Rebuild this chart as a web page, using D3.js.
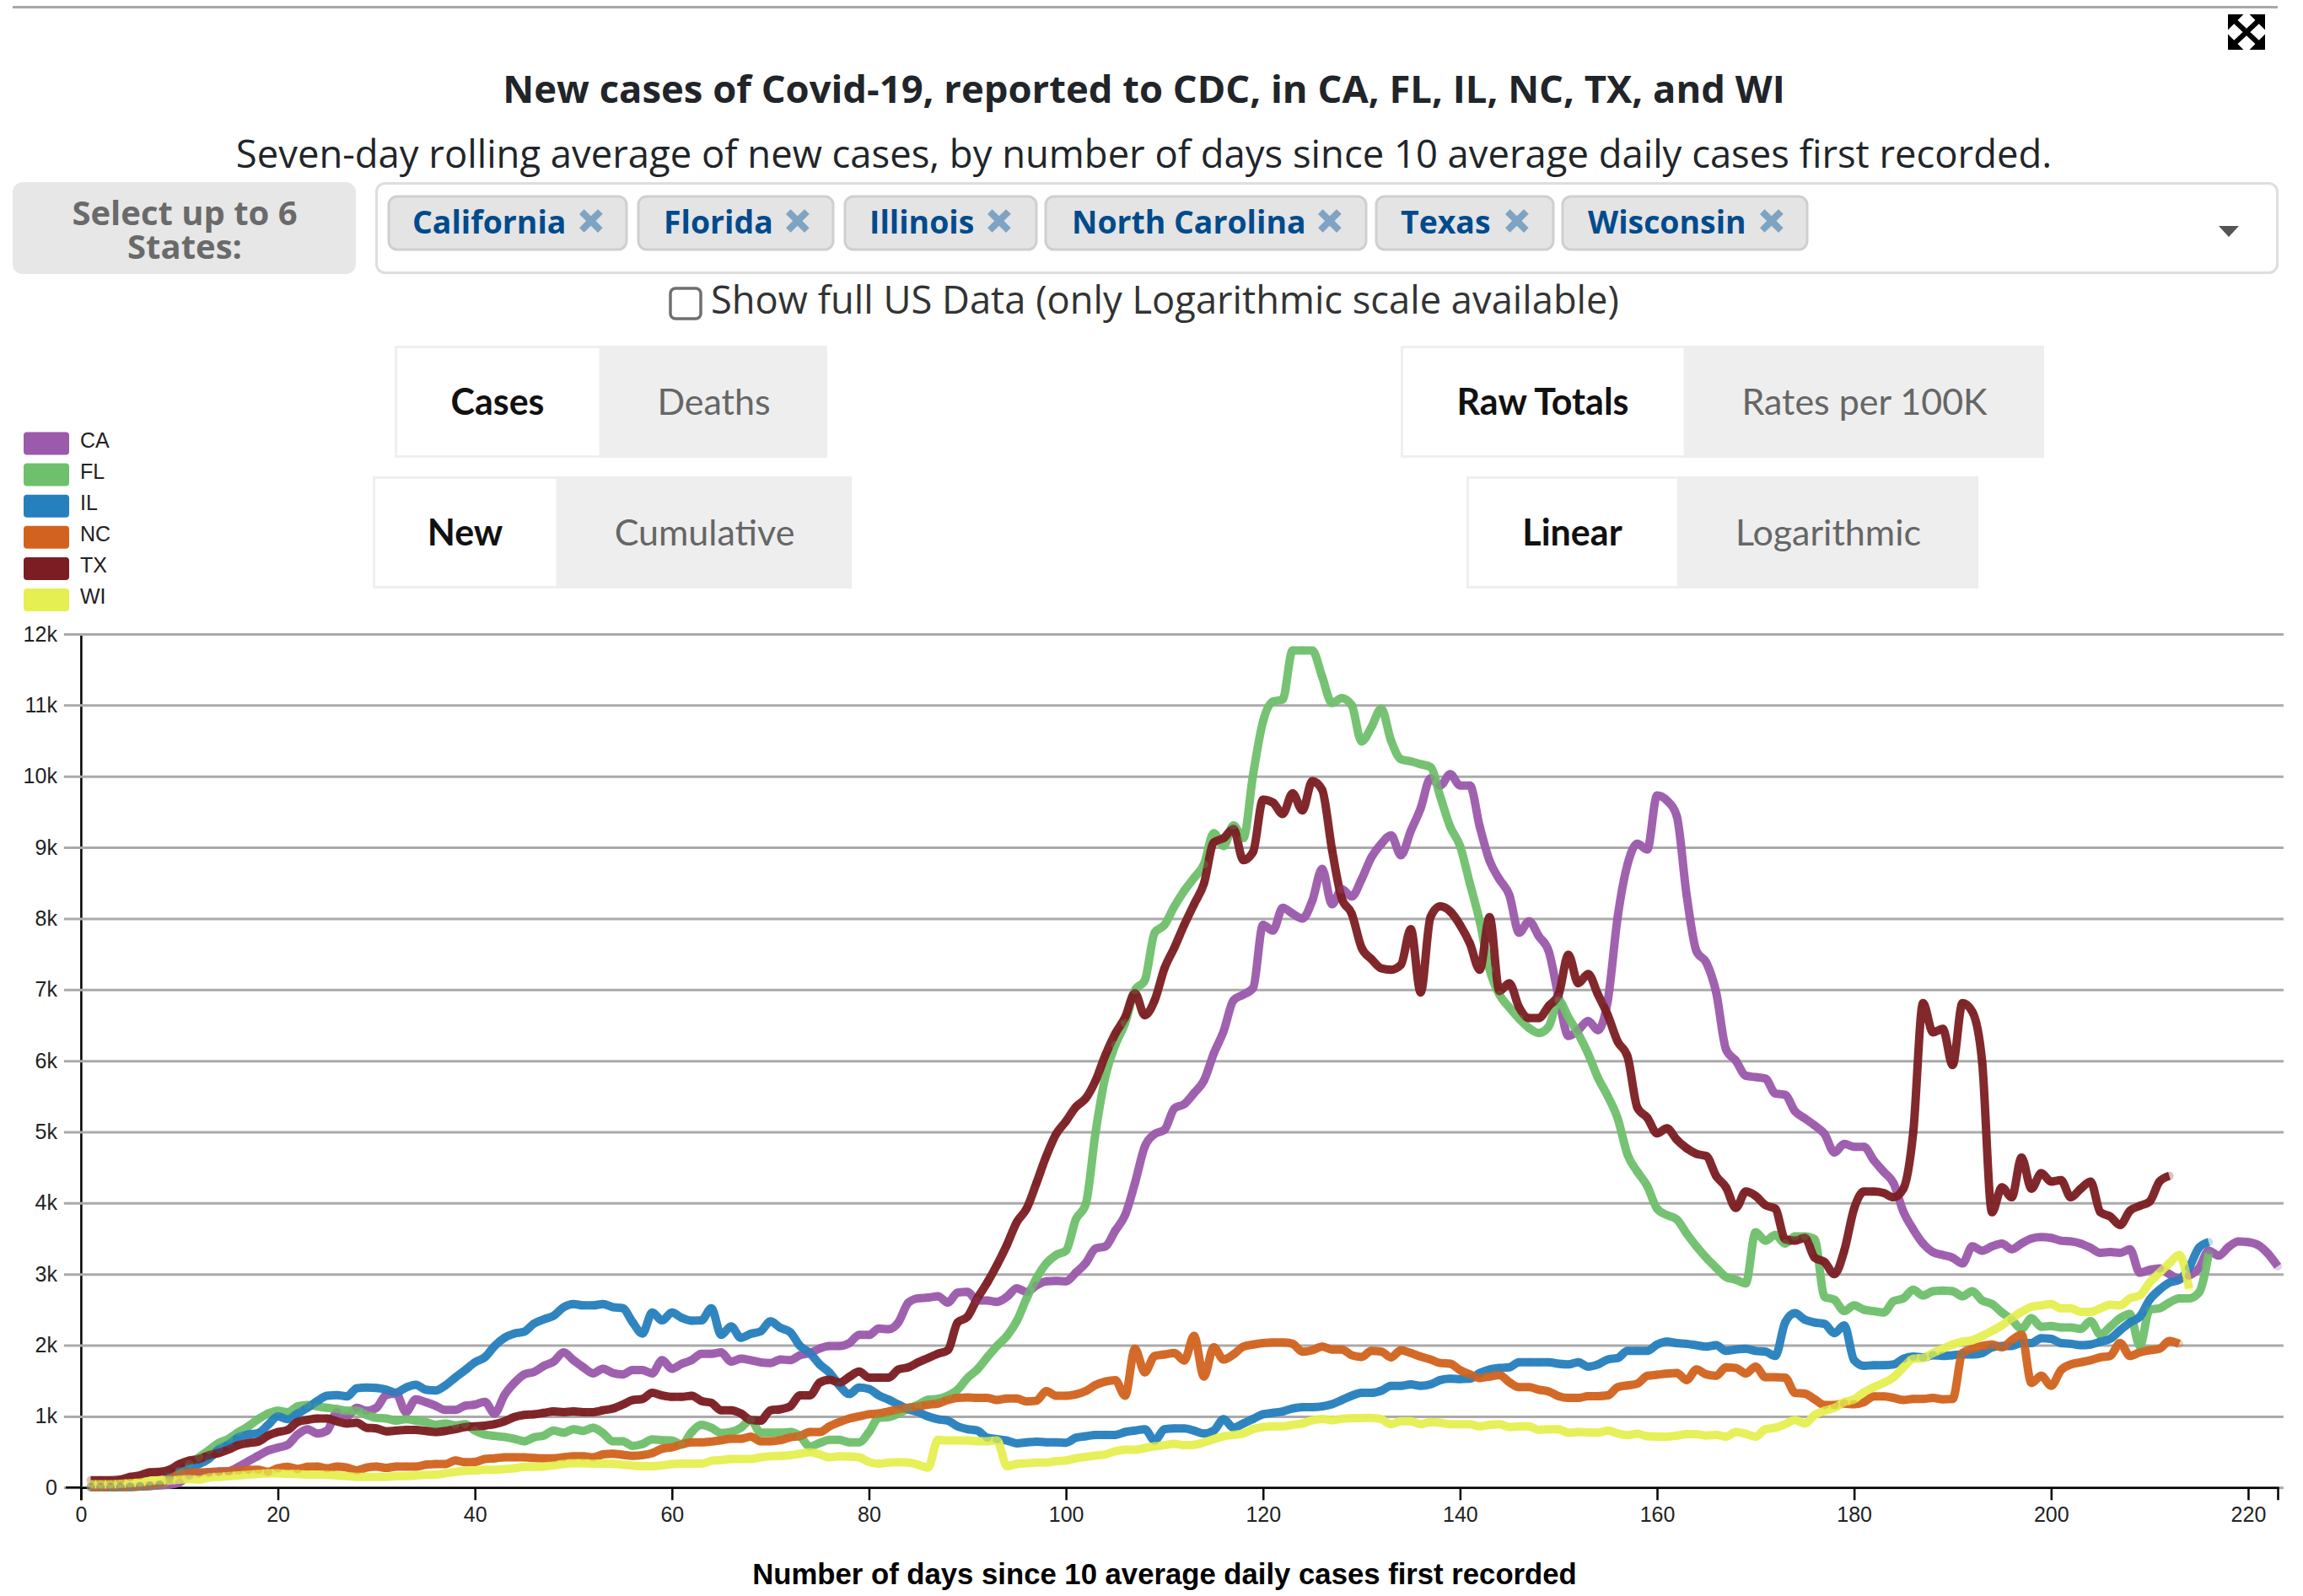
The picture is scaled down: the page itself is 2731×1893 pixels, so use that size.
<!DOCTYPE html>
<html>
<head>
<meta charset="utf-8">
<title>New cases of Covid-19</title>
<script src="https://cdn.jsdelivr.net/npm/d3@7"></script>
<style>
    html, body { margin: 0; padding: 0; background: #fff; }
    svg { display: block; }
    text { font-family: "Open Sans", sans-serif; }
    .axis text, .legend text, .x-label { font-family: "Liberation Sans", Arial, sans-serif; }
    .toggle text { font-family: Lato, sans-serif; font-size: 43px; text-anchor: middle; }
</style>
</head>
<body>
<div id="chart"></div>
<script>
// values below are seven-day averages, one per day starting at day 1
var caCases = [
    5,5,5,8,10,15,20,30,40,
    70,170,200,215,225,230,290,370,445,520,
    560,600,745,820,760,800,1060,1000,1120,1080,
    1120,1300,1320,1060,1240,1200,1150,1090,1090,1150,
    1165,1205,1040,1300,1470,1590,1625,1710,1770,1900,
    1790,1690,1605,1670,1610,1590,1650,1650,1605,1790,
    1670,1740,1790,1880,1880,1900,1770,1810,1790,1760,
    1750,1800,1790,1860,1890,1955,1990,1990,2030,2145,
    2145,2235,2225,2325,2600,2660,2670,2690,2600,2740,
    2750,2630,2630,2610,2680,2800,2750,2840,2900,2905,
    2900,3020,3155,3360,3390,3610,3830,4280,4795,4970,
    5030,5330,5390,5545,5720,6100,6415,6850,6930,7025,
    7910,7830,8150,8070,8000,8250,8700,8200,8410,8310,
    8550,8860,9050,9170,8890,9230,9550,9970,9870,10030,
    9870,9870,9290,8810,8550,8330,7800,7960,7750,7540,
    6900,6350,6430,6560,6430,6850,8020,8760,9050,8970,
    9730,9660,9440,8330,7540,7380,6960,6160,6000,5790,
    5770,5750,5540,5520,5290,5190,5090,4970,4710,4830,
    4790,4790,4600,4440,4280,3880,3630,3430,3310,3270,
    3230,3150,3390,3330,3390,3430,3350,3430,3500,3520,
    3510,3470,3460,3430,3370,3300,3310,3300,3350,3020,
    3060,3080,3000,2940,2980,3080,3330,3260,3380,3460,
    3450,3410,3290,3110
];
var flCases = [
    5,5,5,8,10,15,25,40,110,
    230,330,425,525,625,685,780,860,960,1040,
    1080,1060,1140,1160,1140,1120,1105,1080,1080,1020,
    980,970,940,960,940,920,880,900,875,890,
    800,745,725,710,685,650,705,730,800,770,
    820,795,840,765,650,650,585,610,675,665,
    660,605,780,880,840,765,780,840,950,770,
    770,770,780,725,575,625,670,670,635,635,
    780,980,990,1040,1110,1165,1235,1245,1290,1375,
    1540,1660,1830,1990,2130,2340,2660,2940,3150,3270,
    3330,3770,3980,4990,5780,6220,6530,6990,7130,7800,
    7910,8170,8390,8570,8760,9200,9020,9310,9130,10030,
    10770,11050,11080,11770,11770,11770,11400,11030,11100,11000,
    10490,10690,10950,10500,10240,10210,10170,10130,9710,9290,
    9020,8490,7960,7280,6930,6750,6590,6460,6390,6480,
    6850,6610,6380,6100,5760,5500,5190,4680,4440,4240,
    3920,3830,3770,3570,3390,3230,3090,2960,2920,2870,
    3590,3470,3550,3430,3530,3530,3490,2680,2640,2480,
    2560,2500,2480,2460,2620,2660,2780,2700,2760,2770,
    2760,2690,2760,2630,2580,2460,2360,2230,2380,2260,
    2270,2250,2250,2230,2340,2150,2260,2380,2440,1990,
    2500,2520,2600,2660,2660,2740,3290
];
var ilCases = [
    5,5,5,8,10,15,25,40,170,
    230,290,330,405,535,605,705,745,765,880,
    1000,960,1040,1120,1215,1290,1300,1280,1395,1405,
    1400,1375,1335,1405,1445,1375,1365,1435,1545,1650,
    1760,1830,1990,2105,2165,2190,2305,2365,2415,2535,
    2580,2560,2560,2580,2535,2520,2325,2165,2460,2350,
    2460,2385,2345,2350,2520,2145,2265,2105,2160,2195,
    2335,2245,2185,1990,1890,1730,1615,1435,1315,1405,
    1385,1295,1235,1165,1100,1060,1000,960,940,860,
    820,800,700,680,660,620,635,645,635,635,
    630,700,720,740,740,740,780,800,820,660,
    820,830,830,800,760,800,960,840,900,965,
    1030,1050,1070,1110,1130,1130,1140,1170,1230,1290,
    1330,1330,1360,1430,1430,1450,1430,1450,1510,1530,
    1525,1530,1610,1660,1680,1690,1760,1760,1760,1760,
    1740,1730,1760,1700,1730,1800,1820,1920,1920,1920,
    2010,2050,2030,2020,2000,1980,2000,1920,1940,1950,
    1920,1910,1850,2320,2450,2360,2320,2300,2170,2280,
    1790,1710,1720,1720,1730,1810,1840,1830,1860,1850,
    1860,1870,1870,1890,1970,1990,1990,2030,2030,2100,
    2090,2030,2020,2000,2010,2050,2090,2210,2320,2400,
    2640,2780,2880,2920,3090,3370,3450
];
var ncCases = [
    5,5,8,10,12,20,30,40,130,
    190,210,210,210,220,230,240,250,250,220,
    270,290,260,290,295,270,295,280,240,280,
    295,275,295,295,295,320,330,330,380,355,
    360,400,410,425,425,425,415,410,410,425,
    440,440,425,465,475,460,445,455,485,545,
    565,605,635,635,645,665,685,685,715,650,
    650,665,705,725,780,780,860,920,970,1000,
    1030,1040,1070,1100,1120,1140,1165,1180,1230,1260,
    1265,1260,1260,1230,1250,1250,1210,1220,1355,1290,
    1290,1310,1355,1440,1490,1510,1290,1950,1620,1850,
    1870,1890,1785,2130,1560,1970,1800,1870,1980,2010,
    2030,2040,2040,2020,1910,1930,1980,1940,1940,1860,
    1835,1920,1910,1830,1930,1890,1840,1800,1750,1740,
    1650,1590,1540,1560,1580,1480,1410,1410,1375,1350,
    1285,1260,1260,1285,1285,1295,1410,1435,1460,1570,
    1585,1600,1610,1510,1660,1590,1570,1690,1680,1605,
    1700,1550,1550,1545,1330,1320,1240,1160,1160,1180,
    1170,1200,1280,1280,1260,1230,1245,1245,1260,1240,
    1245,1890,1950,1990,2010,1970,2070,2150,1470,1570,
    1430,1650,1730,1760,1790,1830,1850,2030,1850,1900,
    1930,1950,2060,2020
];
var txCases = [
    100,100,100,110,150,170,215,220,250,
    330,380,400,455,485,535,595,625,645,730,
    780,810,920,950,970,970,930,900,910,840,
    830,790,800,810,810,795,780,795,820,850,
    860,870,890,930,990,1020,1030,1050,1070,1060,
    1070,1060,1060,1085,1110,1165,1230,1245,1330,1295,
    1275,1275,1290,1215,1190,1085,1085,1040,950,940,
    1085,1100,1140,1295,1295,1475,1515,1475,1555,1630,
    1545,1545,1545,1660,1690,1760,1820,1880,1930,2320,
    2400,2660,2880,3130,3410,3730,3920,4280,4660,4970,
    5150,5350,5470,5720,6080,6380,6610,6950,6640,6850,
    7300,7590,7910,8200,8490,9070,9130,9260,8820,8940,
    9670,9630,9470,9760,9520,9930,9810,8970,8280,8070,
    7590,7430,7300,7280,7350,7850,6960,8020,8170,8100,
    7910,7650,7280,8020,6980,7090,6750,6600,6600,6770,
    6930,7490,7090,7220,6930,6640,6270,6060,5340,5200,
    4980,5050,4890,4770,4690,4660,4380,4220,3930,4160,
    4100,3970,3920,3490,3470,3510,3230,3170,3000,3330,
    3920,4160,4160,4140,4080,4200,4990,6810,6400,6450,
    5940,6810,6690,5980,3870,4220,4080,4640,4200,4420,
    4300,4320,4080,4200,4300,3870,3810,3690,3890,3960,
    4020,4300,4380
];
var wiCases = [
    45,45,45,50,60,70,90,100,100,
    110,120,110,140,150,160,170,180,190,200,
    200,190,190,180,180,178,170,160,150,150,
    150,150,160,160,170,178,180,200,220,235,
    240,250,250,260,270,290,290,295,310,330,
    340,340,335,335,335,320,310,300,300,310,
    330,335,335,335,375,385,400,400,400,425,
    440,445,455,475,495,465,425,440,435,425,
    360,335,350,355,350,320,280,670,660,660,
    660,650,650,660,300,330,340,350,350,370,
    380,410,430,450,465,510,530,530,555,580,
    595,615,595,600,635,680,720,740,760,820,
    850,860,860,880,900,945,965,945,965,975,
    975,980,960,890,930,930,890,920,910,890,
    890,890,860,880,890,850,860,860,810,820,
    820,770,780,775,770,800,760,735,755,720,
    715,715,730,750,750,730,740,715,780,755,
    715,820,840,890,950,900,1020,1080,1120,1200,
    1240,1340,1410,1470,1550,1690,1810,1820,1890,1950,
    2010,2050,2070,2130,2200,2280,2380,2470,2540,2560,
    2580,2520,2520,2470,2470,2520,2570,2560,2660,2700,
    2880,3020,3150,3270,2800
];

var stateCodes = ['CA', 'FL', 'IL', 'NC', 'TX', 'WI'];
var stateColors = ['#9b5aab', '#6fc06c', '#2680bd', '#d2631f', '#7b1d22', '#e6ef52'];
var stateSeries = [caCases, flCases, ilCases, ncCases, txCases, wiCases];
var stateNames = ['California', 'Florida', 'Illinois', 'North Carolina', 'Texas', 'Wisconsin'];
var dayTicks = [0, 20, 40, 60, 80, 100, 120, 140, 160, 180, 200, 220];
var caseTicks = [0, 1000, 2000, 3000, 4000, 5000, 6000, 7000, 8000, 9000, 10000, 11000, 12000];

var svg = d3.select('#chart').append('svg')
    .attr('width', 2731)
    .attr('height', 1893);

// page furniture above the chart
svg.append('line')
    .attr('x1', 15).attr('x2', 2701).attr('y1', 8.5).attr('y2', 8.5)
    .attr('stroke', '#a8a8a8').attr('stroke-width', 3);

drawExpandIcon(2643, 18, 42, 40);

svg.append('text')
    .attr('x', 1356.5).attr('y', 122)
    .attr('text-anchor', 'middle')
    .attr('font-weight', 700).attr('font-size', 45.4).attr('fill', '#212529')
    .text('New cases of Covid-19, reported to CDC, in CA, FL, IL, NC, TX, and WI');

svg.append('text')
    .attr('x', 1356.5).attr('y', 199)
    .attr('text-anchor', 'middle')
    .attr('font-size', 45.4).attr('fill', '#212529')
    .text('Seven-day rolling average of new cases, by number of days since 10 average daily cases first recorded.');

// "Select up to 6 States" label and the select box with its chips
svg.append('rect')
    .attr('x', 15).attr('y', 216).attr('width', 407).attr('height', 109).attr('rx', 12)
    .attr('fill', '#e7e7e7');
var selectLabel = svg.append('text')
    .attr('text-anchor', 'middle')
    .attr('font-weight', 700).attr('font-size', 40).attr('fill', '#6a6a6a');
selectLabel.selectAll('tspan')
    .data(['Select up to 6', 'States:'])
    .enter().append('tspan')
    .attr('x', 219)
    .attr('y', function(d, i) { return 267 + i * 40; })
    .text(function(d) { return d; });

svg.append('rect')
    .attr('x', 446.5).attr('y', 217.5).attr('width', 2254).attr('height', 106).attr('rx', 10)
    .attr('fill', '#fff').attr('stroke', '#dedede').attr('stroke-width', 3);

// left edge, right edge, text start and "x" centre of every chip
var chipLayout = [
    [461, 743, 489, 701],
    [757, 988, 787, 946],
    [1002, 1229, 1031, 1185],
    [1240, 1620, 1271, 1577],
    [1632, 1842, 1661, 1799],
    [1853, 2143, 1883, 2101]
];
var chips = svg.selectAll('.chip')
    .data(stateNames)
    .enter().append('g')
    .attr('class', 'chip');
chips.append('rect')
    .attr('x', function(d, i) { return chipLayout[i][0]; })
    .attr('width', function(d, i) { return chipLayout[i][1] - chipLayout[i][0]; })
    .attr('y', 233).attr('height', 63).attr('rx', 10)
    .attr('fill', '#e4e4e4').attr('stroke', '#cfcfcf').attr('stroke-width', 3);
chips.append('text')
    .attr('x', function(d, i) { return chipLayout[i][2]; })
    .attr('y', 277)
    .attr('font-weight', 700).attr('font-size', 37.4).attr('fill', '#004b8d')
    .text(function(d) { return d; });
chips.append('text')
    .attr('x', function(d, i) { return chipLayout[i][3]; })
    .attr('y', 283.5)
    .attr('text-anchor', 'middle')
    .attr('font-weight', 800).attr('font-size', 62).attr('fill', '#7fa3c2')
    .text('×');

svg.append('path')
    .attr('d', 'M2631,268 L2655,268 L2643,281 Z')
    .attr('fill', '#555');

svg.append('rect')
    .attr('x', 795).attr('y', 342).attr('width', 36).attr('height', 36).attr('rx', 6)
    .attr('fill', '#fff').attr('stroke', '#6f6f6f').attr('stroke-width', 3.5);
svg.append('text')
    .attr('x', 843).attr('y', 372)
    .attr('font-size', 45.3).attr('fill', '#333')
    .text('Show full US Data (only Logarithmic scale available)');

// the four on/off toggles
drawToggle(468, 712, 981, 410, 'Cases', 'Deaths');
drawToggle(442, 661, 1010, 565, 'New', 'Cumulative');
drawToggle(1661, 1998, 2424, 410, 'Raw Totals', 'Rates per 100K');
drawToggle(1739, 1990, 2346, 565, 'Linear', 'Logarithmic');

// legend
var legend = svg.selectAll('.legend')
    .data(stateCodes)
    .enter().append('g')
    .attr('class', 'legend')
    .attr('transform', function(d, i) { return 'translate(28,' + (512.5 + i * 37.1) + ')'; });
legend.append('rect')
    .attr('width', 54).attr('height', 27).attr('rx', 4)
    .attr('fill', function(d, i) { return stateColors[i]; });
legend.append('text')
    .attr('x', 67).attr('y', 18)
    .attr('font-size', 25).attr('fill', '#222')
    .text(function(d) { return d; });

// chart
var x = d3.scaleLinear().domain([0, 223]).range([95.9, 2701]);
var y = d3.scaleLinear().domain([0, 12000]).range([1764.3, 752]);

var yAxis = d3.axisLeft(y)
    .tickValues(caseTicks)
    .tickSizeInner(0)
    .tickSizeOuter(18)
    .tickPadding(28)
    .tickFormat(function(d) { return d === 0 ? '0' : (d / 1000) + 'k'; });

var yG = svg.append('g')
    .attr('class', 'axis')
    .attr('transform', 'translate(' + x(0) + ',0)')
    .call(yAxis);
yG.selectAll('.tick line')
    .attr('x1', -20).attr('x2', 2612)
    .attr('stroke', '#aaa').attr('stroke-width', 3);
yG.select('.domain').attr('stroke', '#000').attr('stroke-width', 2.5);
yG.selectAll('text').attr('font-size', 25).attr('fill', '#222');

var xAxis = d3.axisBottom(x)
    .tickValues(dayTicks)
    .tickSizeInner(15)
    .tickSizeOuter(15)
    .tickPadding(8);

var xG = svg.append('g')
    .attr('class', 'axis')
    .attr('transform', 'translate(0,' + y(0) + ')')
    .call(xAxis);
xG.select('.domain').attr('stroke', '#000').attr('stroke-width', 2.5);
xG.selectAll('.tick line').attr('stroke', '#000').attr('stroke-width', 2.5);
xG.selectAll('text').attr('font-size', 25).attr('fill', '#222');

// black stretch of the zero line left of the y axis
svg.append('line')
    .attr('x1', 78).attr('x2', x(0)).attr('y1', y(0)).attr('y2', y(0))
    .attr('stroke', '#000').attr('stroke-width', 2.5);

svg.append('text')
    .attr('class', 'x-label')
    .attr('x', 1381).attr('y', 1879)
    .attr('text-anchor', 'middle')
    .attr('font-weight', 700).attr('font-size', 34.7).attr('fill', '#000')
    .text('Number of days since 10 average daily cases first recorded');

var line = d3.line()
    .x(function(d, i) { return x(i + 1); })
    .y(function(d) { return y(d); })
    .curve(d3.curveMonotoneX);

svg.selectAll('.state-line')
    .data(stateSeries)
    .enter().append('path')
    .attr('class', 'state-line')
    .attr('d', line)
    .attr('fill', 'none')
    .attr('stroke', function(d, i) { return stateColors[i]; })
    .attr('stroke-width', 10)
    .attr('stroke-linejoin', 'round')
    .attr('stroke-opacity', 0.95);

// faint day markers sit on top of all the lines
stateSeries.forEach(function(series, s) {
    svg.append('g').selectAll('circle')
        .data(series)
        .enter().append('circle')
        .attr('cx', function(d, i) { return x(i + 1); })
        .attr('cy', function(d) { return y(d); })
        .attr('r', 5)
        .attr('fill', stateColors[s])
        .attr('opacity', 0.28);
});

function drawToggle(left, middle, right, top, onLabel, offLabel) {
    var g = svg.append('g').attr('class', 'toggle');
    var height = 133;
    g.append('rect')
        .attr('x', left + 1.5).attr('y', top + 1.5)
        .attr('width', middle - left - 1.5).attr('height', height - 3)
        .attr('fill', '#fff').attr('stroke', '#efefef').attr('stroke-width', 3);
    g.append('rect')
        .attr('x', middle).attr('y', top)
        .attr('width', right - middle).attr('height', height)
        .attr('fill', '#eeeeee');
    g.append('text')
        .attr('x', (left + middle) / 2).attr('y', top + 82)
        .attr('font-weight', 700).attr('fill', '#111')
        .text(onLabel);
    g.append('text')
        .attr('x', (middle + right) / 2).attr('y', top + 82)
        .attr('fill', '#666')
        .text(offLabel);
}

function drawExpandIcon(ix, iy, w, h) {
    var g = svg.append('g')
        .attr('transform', 'translate(' + ix + ',' + iy + ')');
    g.append('path')
        .attr('d', 'M3,3 L' + (w - 3) + ',' + (h - 3) + ' M' + (w - 3) + ',3 L3,' + (h - 3))
        .attr('stroke', '#000').attr('stroke-width', 6).attr('fill', 'none');
    var a = 15;
    var corners = [
        [0, 0, a, 0, 0, a],
        [w, 0, w - a, 0, w, a],
        [0, h, a, h, 0, h - a],
        [w, h, w - a, h, w, h - a]
    ];
    corners.forEach(function(c) {
        g.append('path')
            .attr('d', 'M' + c[0] + ',' + c[1] + ' L' + c[2] + ',' + c[3] + ' L' + c[4] + ',' + c[5] + ' Z')
            .attr('fill', '#000').attr('stroke', '#000').attr('stroke-width', 2);
    });
}
</script>
</body>
</html>
